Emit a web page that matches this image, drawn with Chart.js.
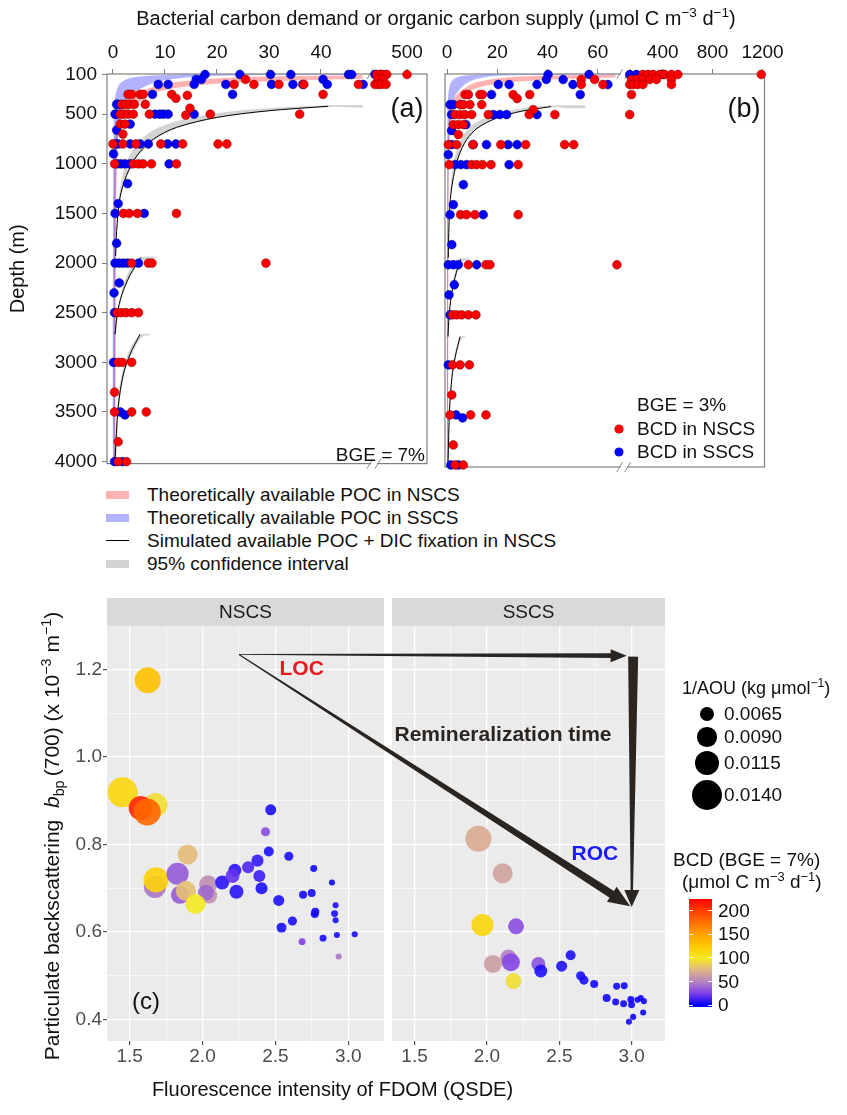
<!DOCTYPE html>
<html>
<head>
<meta charset="utf-8">
<title>BCD and organic carbon supply</title>
<script src="https://cdn.jsdelivr.net/npm/chart.js@4.4.1/dist/chart.umd.min.js"></script>
<style>
  body { margin: 0; background: #fff; }
  #page { position: relative; width: 847px; height: 1115px; overflow: hidden;
          font-family: "Liberation Sans", Arial, sans-serif; color: #111; }
  #page canvas { position: absolute; }
  .txt { position: absolute; white-space: nowrap; }
  sup, sub { font-size: 68%; line-height: 0; }
</style>
</head>
<body>
<div id="page">
  <canvas id="chartA" width="440" height="480" style="left:0;top:0"></canvas>
  <canvas id="chartB" width="358" height="480" style="left:432px;top:0"></canvas>
  <canvas id="chartC" width="847" height="530" style="left:0;top:585px"></canvas>
</div>
<script>
// ---------- panels (a) and (b): depth profiles ----------
const depthTicks = [100, 500, 1000, 1500, 2000, 2500, 3000, 3500, 4000];
const ticksA1 = [0, 10, 20, 30, 40];
const ticksA2 = [500];
const ticksB1 = [0, 20, 40, 60];
const ticksB2 = [400, 800, 1200];

// [BCD, depth], BGE = 7%
const nscsBcdA = [
  [99,100],[143,100],[186,100],[231,100],[500,100],
  [25.5,150],[116,150],[182,150],
  [23.3,200],[27.1,200],[31.9,200],[36.7,200],[47.2,200],[76,200],[120,200],[165,200],[222,200],
  [2.9,300],[3.6,300],[5.2,300],[5.8,300],[11.3,300],[14.3,310],[40.4,300],[12.1,340],
  [1.7,400],[2.4,400],[3.2,400],[4.1,400],[6.2,400],[14.8,440],
  [1.4,500],[2.0,500],[2.9,500],[3.9,500],[7.0,500],[14.0,510],[18.7,500],[35.9,500],
  [1.4,600],[2.3,600],[1.9,700],
  [0,800],[1.9,800],[4.4,800],[9.2,800],[13.4,800],[20.2,800],[21.9,800],
  [0.3,1000],[3.9,1000],[4.9,1000],[5.8,1000],[7.4,1000],[12.2,1000],
  [2.0,1500],[3.1,1500],[4.7,1500],[12.2,1500],
  [3.6,2000],[6.8,2000],[7.5,2000],[29.4,2000],
  [0.8,2500],[1.6,2500],[2.5,2500],[3.6,2500],[4.9,2500],
  [1.0,3000],[1.8,3000],[3.6,3000],[0.3,3300],
  [0.3,3500],[3.6,3500],[6.4,3500],[1.0,3800],[1.0,4000],[2.6,4000]
];
const sscsBcdA = [
  [17.7,100],[24.4,100],[30.3,100],[34.2,100],[45.3,100],[45.9,100],[76,100],
  [16.0,150],[17.0,150],[40.4,150],
  [8.7,200],[10.6,200],[15.6,200],[21.7,200],[30.5,200],[34.6,200],[36.5,200],[41.2,200],[48.1,200],
  [7.6,300],[23.0,300],
  [0.7,400],[1.0,400],
  [0.4,500],[0.6,500],[8.1,500],[9.0,500],[9.7,500],[10.6,500],[15.6,500],
  [3.3,600],[0.7,660],
  [0.5,800],[1.0,800],[3.3,800],[5.2,800],[6.8,800],[10.5,800],[12.1,800],
  [0.1,900],
  [0.8,1000],[1.5,1000],[2.3,1000],[3.3,1000],[10.8,1000],
  [2.8,1200],[1.0,1400],[0.4,1500],[6.0,1500],
  [0.7,1800],
  [0.4,2000],[1.2,2000],[2.0,2000],[2.8,2000],[4.9,2000],
  [1.2,2200],[0.2,2300],[0.3,2500],[0.1,3000],
  [1.4,3500],[2.3,3530],[0.3,4000],[1.8,4000]
];
// [BCD, depth], BGE = 3%
const nscsBcdB = [
  [242,100],[283,100],[323,100],[376,100],[416,100],[470,100],[522,100],[1190,100],
  [53.4,150],[58.7,150],[150,150],[190,150],[242,150],[296,150],[350,150],[470,150],
  [53.4,200],[62.0,200],[136,200],[165,200],[200,200],[242,200],[470,200],
  [7.2,300],[8.5,300],[13.1,300],[14.1,300],[26.3,300],[32.9,300],[150,300],[27.9,340],
  [5.2,400],[6.5,400],[9.1,400],[13.8,400],[34.3,450],
  [3.2,500],[5.2,500],[7.1,500],[9.8,500],[16.4,500],[32.7,500],[42.9,500],[136,500],
  [2.5,600],[4.5,600],[6.5,600],[4.5,700],
  [0.5,800],[3.8,800],[10.3,800],[21.4,800],[31.3,800],[46.8,800],[50.4,800],
  [0.9,1000],[9.8,1000],[11.8,1000],[14.1,1000],[17.5,1000],[28.3,1000],
  [5.4,1500],[7.8,1500],[11.1,1500],[28.3,1500],
  [8.5,2000],[15.5,2000],[17.1,2000],[67.6,2000],
  [2.2,2500],[3.8,2500],[5.8,2500],[8.5,2500],[11.5,2500],
  [2.2,3000],[5.2,3000],[8.9,3000],[1.9,3300],
  [1.2,3500],[9.4,3500],[15.5,3500],[2.5,3800],
  [3.2,4000],[6.5,4000]
];
const sscsBcdB = [
  [40.2,100],[56.5,100],[136,100],[190,100],[403,100],
  [39.5,150],[46.2,150],
  [20.4,200],[24.7,200],[35.8,200],[50.1,200],[64.0,200],
  [17.7,300],[53.0,300],
  [1.2,400],[2.5,400],
  [1.8,500],[18.4,500],[21.0,500],[23.7,500],[35.8,500],
  [7.5,600],[1.8,660],
  [1.8,800],[10.4,800],[15.7,800],[24.3,800],[27.9,800],
  [0.5,900],
  [3.2,1000],[5.5,1000],[7.8,1000],[24.7,1000],
  [6.5,1200],[2.5,1400],
  [1.2,1500],[14.4,1500],
  [1.9,1800],
  [0.5,2000],[2.5,2000],[4.5,2000],[11.8,2000],
  [2.9,2200],[0.8,2300],[1.2,2500],[0.5,3000],
  [3.6,3500],[6.2,3530],
  [1.5,4000],[4.5,4000]
];

// theoretically available POC bands, [supply, depth]; right edge top->bottom, left edge bottom->top
const nscsPocRight = [[67,130],[48,143],[35,160],[23,183],[15,215],[10.3,250],[7,300],[5.2,370],[3,460],[1.4,580],[0.9,800],[0.6,1500],[0.45,4000]];
const nscsPocLeft = [[0.15,4000],[0.2,1500],[0.4,800],[0.9,500],[1.4,420],[3,330],[5.2,270],[10.3,190],[16,155],[23.1,130],[35,115],[48,108],[67,102]];
const sscsPocRight = [[67,103],[47,104],[30,106],[17,120],[11,150],[7,200],[3.5,300],[2,400],[1.4,500],[0.6,1000],[0.35,4000]];
const sscsPocLeft = [[0,4000],[0.05,1000],[0.2,500],[0.3,400],[0.5,300],[1.2,200],[2.5,150],[5,120],[10,105],[15,100],[47,100],[67,100]];

// simulated available POC + DIC fixation in NSCS (three pieces) and their 95% CI edges
const sim1 = [[41.4,420],[29.6,467],[19.9,533],[12.2,633],[7.8,750],[4.6,917],[2.6,1117],[1.3,1350],[0.7,1680],[0.5,1930]];
const ci1Upper = [[55,408],[48,408],[41.4,410],[29.6,440],[19.9,490],[12.2,570],[7.8,660],[4.6,800],[2.6,980],[1.5,1200],[0.9,1500],[0.5,1930]];
const ci1Lower = [[0.65,1930],[0.8,1680],[1.45,1350],[2.8,1117],[4.9,917],[8.2,750],[12.7,633],[20.5,533],[30.3,467],[42,428],[48,436],[55,436]];
const sim2 = [[5.4,1940],[3.3,2117],[1.7,2317],[0.8,2517],[0.4,2717]];
const ci2Upper = [[8.4,1935],[5.4,1945],[3.3,2060],[2.0,2220],[1.0,2450],[0.3,2717]];
const ci2Lower = [[0.55,2717],[1.0,2517],[1.9,2317],[3.6,2117],[5.8,1975],[8.4,1945]];
const sim3 = [[5.2,2717],[3.3,2917],[2.0,3117],[1.0,3450],[0.4,3980]];
const ci3Upper = [[7.2,2712],[5.2,2722],[3.3,2860],[2.0,3050],[1.0,3350],[0.3,3980]];
const ci3Lower = [[0.55,3980],[1.15,3450],[2.2,3117],[3.6,2917],[5.6,2745],[7.2,2722]];

// ---------- panel (c): bbp vs FDOM ----------
const fdomTicks = [1.5, 2.0, 2.5, 3.0];
const fdomMinor = [1.75, 2.25, 2.75];
const bbpTicks = [0.4, 0.6, 0.8, 1.0, 1.2];
const bbpMinor = [0.5, 0.7, 0.9, 1.1];

const nscsFdom = [1.452,1.624,1.678,1.576,1.621,1.674,1.681,1.829,1.898,1.845,1.886,2.039,2.046,2.023,1.952,2.135,2.222,2.206,2.233,2.313,2.377,2.390,2.405,2.468,2.432,2.455,2.592,2.523,2.542,2.617,2.690,2.749,2.763,2.774,2.770,2.683,2.827,2.888,2.913,2.906,2.913,2.922,2.934,3.044];
const nscsBbp = [0.919,1.175,0.890,0.883,0.874,0.703,0.719,0.733,0.777,0.685,0.694,0.709,0.683,0.690,0.664,0.713,0.741,0.728,0.692,0.748,0.763,0.728,0.700,0.879,0.829,0.784,0.773,0.672,0.610,0.625,0.685,0.689,0.745,0.646,0.641,0.578,0.586,0.713,0.661,0.642,0.627,0.593,0.544,0.595];
const nscsAou = [0.0140,0.0121,0.0112,0.0112,0.0126,0.0103,0.0117,0.0103,0.0093,0.0084,0.0093,0.0084,0.0074,0.0074,0.0093,0.0065,0.0060,0.0065,0.0065,0.0056,0.0056,0.0056,0.0056,0.0051,0.0042,0.0046,0.0042,0.0051,0.0046,0.0042,0.0037,0.0037,0.0032,0.0037,0.0037,0.0032,0.0032,0.0028,0.0028,0.0032,0.0028,0.0028,0.0028,0.0028];
const nscsBcd = [115,130,95,210,180,45,118,35,78,35,80,55,58,40,100,8,8,20,8,15,10,12,6,5,30,5,5,6,5,5,4,4,3,4,4,25,5,3,5,5,5,5,45,5];

const sscsFdom = [1.941,2.109,1.969,2.201,2.041,2.148,2.165,2.183,2.355,2.372,2.516,2.578,2.647,2.670,2.741,2.827,2.896,2.948,2.889,2.944,2.994,2.999,3.040,3.063,3.084,3.079,3.010,2.981];
const sscsBbp = [0.813,0.734,0.616,0.613,0.527,0.542,0.531,0.488,0.527,0.511,0.522,0.547,0.500,0.490,0.481,0.449,0.476,0.477,0.440,0.436,0.446,0.434,0.445,0.449,0.442,0.416,0.406,0.395];
const sscsAou = [0.0121,0.0093,0.0103,0.0074,0.0084,0.0074,0.0084,0.0074,0.0065,0.0060,0.0051,0.0046,0.0042,0.0042,0.0037,0.0037,0.0032,0.0032,0.0032,0.0032,0.0032,0.0032,0.0028,0.0028,0.0028,0.0028,0.0028,0.0028];
const sscsBcd = [70,65,115,30,62,48,28,95,32,6,6,5,5,5,4,4,3,3,3,3,3,3,3,3,3,3,3,3];

const aouKeys = [0.0065, 0.0090, 0.0115, 0.0140];
const bcdKeys = [0, 50, 100, 150, 200];

// annotation anchors in data units: [FDOM, bbp]
const apex = [2.25, 1.234];        // NSCS facet
const locTip = [2.965, 1.231];     // SSCS facet
const rocTip = [2.99, 0.659];      // SSCS facet
const timeTop = [3.01, 1.229];     // SSCS facet
const timeTip = [3.0, 0.657];      // SSCS facet

// ---------- styles ----------
const RED = '#ff0000', RED_EDGE = 'rgba(110,0,0,0.8)';
const BLUE = '#0000ff', BLUE_EDGE = 'rgba(0,0,110,0.8)';
const NSCS_BAND = 'rgba(255,0,0,0.3)', SSCS_BAND = 'rgba(0,0,255,0.3)', CI_BAND = 'rgba(0,0,0,0.17)';
const FRAME = '#7f7f7f';
const ARROW = '#2b2522';
const FONT = '"Liberation Sans", Arial, sans-serif';
const bcdStops = [[0,'#0000ff'],[25,'#7f3fe8'],[50,'#b585c0'],[75,'#e2b585'],[100,'#f5ea20'],[125,'#ffc800'],[150,'#ffa500'],[175,'#ff7000'],[200,'#ff4000'],[225,'#ff0000']];

Chart.defaults.font.family = FONT;
Chart.defaults.color = '#111';
Chart.defaults.animation = false;
Chart.defaults.events = [];
Chart.defaults.plugins.legend.display = false;
Chart.defaults.plugins.tooltip.enabled = false;

const toXY = pts => pts.map(p => ({ x: p[0], y: p[1] }));
const sizeOf = v => 7 + (v - 0.0065) * 1067;

function hexRgb(h) {
  return [1, 3, 5].map(i => parseInt(h.slice(i, i + 2), 16));
}
function bcdColor(v, alpha) {
  let i = 0;
  while (i < bcdStops.length - 2 && v > bcdStops[i + 1][0]) i++;
  const [v0, c0] = bcdStops[i], [v1, c1] = bcdStops[i + 1];
  const t = Math.min(Math.max((v - v0) / (v1 - v0), 0), 1);
  const a = hexRgb(c0), b = hexRgb(c1);
  const c = a.map((x, k) => Math.round(x + (b[k] - x) * t));
  return `rgba(${c[0]},${c[1]},${c[2]},${alpha})`;
}

// box round the depth panels, opened where the x axis breaks
const panelFrame = {
  id: 'panelFrame',
  beforeDatasetsDraw(chart) {
    const { ctx, chartArea: a } = chart;
    const bx = chart.scales.x1.right;
    ctx.save();
    ctx.strokeStyle = FRAME;
    ctx.lineWidth = 1.2;
    ctx.strokeRect(a.left, a.top, a.right - a.left, a.bottom - a.top);
    ctx.fillStyle = '#fff';
    ctx.lineWidth = 0.9;
    [a.top, a.bottom].forEach(y => {
      ctx.fillRect(bx - 2, y - 2, 6, 4);
      ctx.beginPath();
      ctx.moveTo(bx - 6, y + 5); ctx.lineTo(bx, y - 5);
      ctx.moveTo(bx + 2, y + 5); ctx.lineTo(bx + 8, y - 5);
      ctx.stroke();
    });
    ctx.restore();
  }
};

const topAxis = (range, ticks, weight) => ({
  type: 'linear', position: 'top', stack: 'top', stackWeight: weight,
  min: range[0], max: range[1],
  afterBuildTicks: s => { s.ticks = ticks.map(v => ({ value: v })); },
  afterFit: s => { s.height = 74; },
  ticks: { font: { size: 19 }, color: '#111', padding: 5, autoSkip: false, maxRotation: 0, callback: v => String(v) },
  grid: { drawOnChartArea: false, tickLength: 5, color: FRAME },
  border: { display: false }
});

function depthChart(canvasId, cfg) {
  const inFirst = p => p[0] <= cfg.brk;
  const dots = (pts, axis, fill, edge, order) => ({
    type: 'scatter', xAxisID: axis, order, clip: false,
    data: toXY(pts.filter(p => (axis === 'x1') === inFirst(p))),
    backgroundColor: fill, borderColor: edge, borderWidth: 0.6, pointRadius: 4.4
  });
  const band = (edgeA, edgeB, fill, order) => ({
    type: 'line', xAxisID: 'x1', order, fill: 'shape', backgroundColor: fill,
    borderColor: 'rgba(0,0,0,0)', borderWidth: 0, pointRadius: 0, tension: 0.3,
    data: toXY(edgeA.concat(edgeB).filter(inFirst))
  });
  const curve = (pts, order) => ({
    type: 'line', xAxisID: 'x1', order, fill: false, borderColor: '#000',
    borderWidth: 1, pointRadius: 0, tension: 0.3, data: toXY(pts)
  });

  return new Chart(document.getElementById(canvasId), {
    type: 'scatter',
    data: {
      datasets: [
        band(nscsPocRight, nscsPocLeft, NSCS_BAND, 9),
        band(sscsPocRight, sscsPocLeft, SSCS_BAND, 8),
        band(ci1Upper, ci1Lower, CI_BAND, 7),
        band(ci2Upper, ci2Lower, CI_BAND, 7),
        band(ci3Upper, ci3Lower, CI_BAND, 7),
        curve(sim1, 6), curve(sim2, 6), curve(sim3, 6),
        dots(cfg.sscs, 'x1', BLUE, BLUE_EDGE, 2),
        dots(cfg.sscs, 'x2', BLUE, BLUE_EDGE, 2),
        dots(cfg.nscs, 'x1', RED, RED_EDGE, 1),
        dots(cfg.nscs, 'x2', RED, RED_EDGE, 1)
      ]
    },
    options: {
      responsive: false,
      layout: { padding: cfg.padding },
      scales: {
        // top stacks are laid out in reverse order, so the right-hand piece comes first
        x2: topAxis(cfg.range2, cfg.ticks2, cfg.w2),
        x1: topAxis(cfg.range1, cfg.ticks1, cfg.w1),
        y: {
          type: 'linear', reverse: true, min: 95, max: 4020, display: cfg.showY,
          afterBuildTicks: s => { s.ticks = depthTicks.map(v => ({ value: v })); },
          afterFit: s => { if (cfg.showY) s.width = 107; },
          ticks: { font: { size: 19 }, color: '#111', padding: 5, autoSkip: false, callback: v => String(v) },
          grid: { drawOnChartArea: false, tickLength: 5, color: FRAME },
          border: { display: false },
          title: { display: true, text: 'Depth (m)', font: { size: 20 }, color: '#111', padding: { top: 6 } }
        }
      }
    },
    plugins: [panelFrame]
  });
}

depthChart('chartA', {
  nscs: nscsBcdA, sscs: sscsBcdA, brk: 50,
  range1: [-1.15, 50], range2: [50, 764], w1: 266, w2: 54,
  ticks1: ticksA1, ticks2: ticksA2, showY: true,
  padding: { left: 0, top: 0, right: 13, bottom: 13 }
});
depthChart('chartB', {
  nscs: nscsBcdB, sscs: sscsBcdB, brk: 70,
  range1: [-0.8, 69.9], range2: [80, 1216], w1: 178, w2: 142,
  ticks1: ticksB1, ticks2: ticksB2, showY: false,
  padding: { left: 13, top: 0, right: 25, bottom: 13 }
});

// ---------- panel (c) ----------
function arrow(ctx, p, q, w0, w1, headLen, headHalf) {
  const dx = q.x - p.x, dy = q.y - p.y, len = Math.hypot(dx, dy);
  const ux = dx / len, uy = dy / len, nx = -uy, ny = ux;
  const bx = q.x - ux * headLen, by = q.y - uy * headLen;
  ctx.beginPath();
  ctx.moveTo(p.x + nx * w0, p.y + ny * w0);
  ctx.lineTo(bx + nx * w1, by + ny * w1);
  ctx.lineTo(bx + nx * headHalf, by + ny * headHalf);
  ctx.lineTo(q.x, q.y);
  ctx.lineTo(bx - nx * headHalf, by - ny * headHalf);
  ctx.lineTo(bx - nx * w1, by - ny * w1);
  ctx.lineTo(p.x - nx * w0, p.y - ny * w0);
  ctx.closePath();
  ctx.fill();
}

const facets = {
  id: 'facets',
  beforeDraw(chart) {
    const { ctx, chartArea: a, scales } = chart;
    ctx.save();
    ctx.fillStyle = '#ebebeb';
    ['x1', 'x2'].forEach(id => ctx.fillRect(scales[id].left, a.top, scales[id].width, a.bottom - a.top));
    ctx.restore();
  },
  beforeDatasetsDraw(chart) {
    // keep the horizontal grid lines out of the gap between the facets
    const { ctx, chartArea: a, scales } = chart;
    ctx.save();
    ctx.fillStyle = '#fff';
    ctx.fillRect(scales.x1.right, a.top, scales.x2.left - scales.x1.right, a.bottom - a.top);
    ctx.restore();
  },
  afterDatasetsDraw(chart) {
    const { ctx, scales: { x1, x2, y } } = chart;
    const at = (sx, p) => ({ x: sx.getPixelForValue(p[0]), y: y.getPixelForValue(p[1]) });
    ctx.save();
    ctx.fillStyle = ARROW;
    arrow(ctx, at(x1, apex), at(x2, locTip), 0.4, 2.4, 16, 6.5);
    arrow(ctx, at(x2, timeTop), at(x2, timeTip), 5, 1.2, 17, 7.5);
    arrow(ctx, at(x1, apex), at(x2, rocTip), 0.5, 4, 22, 9);

    ctx.textAlign = 'center';
    ctx.textBaseline = 'middle';
    ctx.font = 'bold 21px ' + FONT;
    ctx.fillStyle = '#e41a1c';
    let p = at(x1, [2.68, 1.2]);
    ctx.fillText('LOC', p.x, p.y);
    ctx.fillStyle = ARROW;
    p = at(x2, [2.111, 1.049]);
    ctx.fillText('Remineralization time', p.x, p.y);
    ctx.fillStyle = '#1a1aff';
    p = at(x2, [2.746, 0.778]);
    ctx.fillText('ROC', p.x, p.y);
    ctx.font = '24px ' + FONT;
    ctx.fillStyle = '#111';
    p = at(x1, [1.612, 0.44]);
    ctx.fillText('(c)', p.x, p.y);
    ctx.restore();
  }
};

const isMajor = (list) => (c) => list.includes(c.tick.value);
const gridStyle = (majors) => ({
  color: '#fff', tickLength: 4, tickWidth: 1,
  lineWidth: c => isMajor(majors)(c) ? 1.3 : 0.6,
  tickColor: c => isMajor(majors)(c) ? '#333' : 'rgba(0,0,0,0)'
});
const fdomAxis = (weight, range) => ({
  type: 'linear', position: 'bottom', stack: 'fdom', stackWeight: weight,
  min: range[0], max: range[1],
  afterBuildTicks: s => { s.ticks = fdomTicks.concat(fdomMinor).sort((a, b) => a - b).map(v => ({ value: v })); },
  afterFit: s => { s.height = 35; },
  ticks: { callback: v => fdomTicks.includes(v) ? v.toFixed(1) : '', font: { size: 19 }, color: '#4d4d4d', padding: 0, autoSkip: false, maxRotation: 0 },
  grid: gridStyle(fdomTicks),
  border: { display: false }
});
const strip = (weight, label) => ({
  type: 'linear', axis: 'x', position: 'top', stack: 'strip', stackWeight: weight,
  min: 0, max: 1, display: label !== null, backgroundColor: '#d9d9d9',
  afterFit: s => { s.height = 28; },
  ticks: { display: false },
  grid: { display: false },
  border: { display: false },
  title: { display: true, text: label || '', font: { size: 19 }, color: '#1a1a1a', padding: { top: 3, bottom: 0 } }
});
const bubbles = (fdom, bbp, aou, bcd, axis) => ({
  type: 'bubble', xAxisID: axis, clip: false, borderWidth: 0,
  data: fdom.map((v, i) => ({ x: v, y: bbp[i], r: sizeOf(aou[i]) })),
  backgroundColor: bcd.map(v => bcdColor(v, 0.9))
});

new Chart(document.getElementById('chartC'), {
  type: 'bubble',
  data: {
    datasets: [
      bubbles(nscsFdom, nscsBbp, nscsAou, nscsBcd, 'x1'),
      bubbles(sscsFdom, sscsBbp, sscsAou, sscsBcd, 'x2')
    ]
  },
  options: {
    responsive: false,
    layout: { padding: { top: 13, left: 0, right: 182, bottom: 6 } },
    plugins: {
      title: { display: true, position: 'bottom', text: 'Fluorescence intensity of FDOM (QSDE)',
               font: { size: 20, weight: 'normal' }, color: '#111', padding: { top: 2, bottom: 7 } }
    },
    scales: {
      // strips sit on top, where stacks run in reverse order
      s2: strip(273, 'SSCS'),
      sgap: strip(8, null),
      s1: strip(277, 'NSCS'),
      x1: fdomAxis(277, [1.345, 3.245]),
      xgap: { type: 'linear', position: 'bottom', stack: 'fdom', stackWeight: 8, min: 0, max: 1, display: false },
      x2: fdomAxis(273, [1.344, 3.23]),
      y: {
        type: 'linear', min: 0.351, max: 1.299,
        afterBuildTicks: s => { s.ticks = bbpTicks.concat(bbpMinor).sort((a, b) => a - b).map(v => ({ value: v })); },
        afterFit: s => { s.width = 107; },
        ticks: { callback: v => bbpTicks.includes(v) ? v.toFixed(1) : '', font: { size: 19 }, color: '#4d4d4d', padding: 1, autoSkip: false },
        grid: gridStyle(bbpTicks),
        border: { display: false }
      }
    }
  },
  plugins: [facets]
});

// ---------- text and keys laid over the canvases ----------
const page = document.getElementById('page');
function put(html, css) {
  const d = document.createElement('div');
  d.className = 'txt';
  Object.assign(d.style, css);
  d.innerHTML = html;
  page.appendChild(d);
  return d;
}
const px = v => v + 'px';

put('Bacterial carbon demand or organic carbon supply (μmol C m<sup>−3</sup> d<sup>−1</sup>)',
  { left: '86px', top: '6px', width: '700px', textAlign: 'center', fontSize: '20px', lineHeight: '24px' });
put('(a)', { left: '380px', top: '92px', width: '54px', textAlign: 'center', fontSize: '27px', lineHeight: '32px' });
put('(b)', { left: '717px', top: '92px', width: '54px', textAlign: 'center', fontSize: '27px', lineHeight: '32px' });
put('BGE = 7%', { left: '300px', top: '444px', width: '125px', textAlign: 'right', fontSize: '19px', lineHeight: '22px' });

// key inside panel (b)
put('BGE = 3%', { left: '637px', top: '394px', fontSize: '19px', lineHeight: '22px' });
[['BCD in NSCS', RED, RED_EDGE, 429], ['BCD in SSCS', BLUE, BLUE_EDGE, 452]].forEach(([label, fill, edge, y]) => {
  put('', { left: px(619 - 4.4), top: px(y - 4.4), width: '8.8px', height: '8.8px', borderRadius: '50%',
            background: fill, boxShadow: '0 0 0 0.6px ' + edge });
  put(label, { left: '637px', top: px(y - 11), fontSize: '19px', lineHeight: '22px' });
});

// key below panels (a) and (b)
[
  ['box', NSCS_BAND, 'Theoretically available POC in NSCS'],
  ['box', SSCS_BAND, 'Theoretically available POC in SSCS'],
  ['line', '#000', 'Simulated available POC + DIC fixation in NSCS'],
  ['box', CI_BAND, '95% confidence interval']
].forEach(([kind, color, label], i) => {
  const y = 494.5 + i * 23;
  const h = kind === 'box' ? 8 : 1.2;
  put('', { left: '106px', top: px(y - h / 2), width: '23px', height: px(h), background: color });
  put(label, { left: '147px', top: px(y - 11), fontSize: '19px', lineHeight: '22px' });
});

// y title of panel (c)
put('Particulate backscattering&nbsp; <i>b</i><sub>bp</sub>&thinsp;(700) (x 10<sup>−3</sup> m<sup>−1</sup>)',
  { left: '-208px', top: '823px', width: '520px', height: '26px', lineHeight: '26px', textAlign: 'center',
    fontSize: '21px', transform: 'rotate(-90deg)' });

// size key
put('1/AOU (kg μmol<sup>−1</sup>)', { left: '682px', top: '677px', fontSize: '18px', lineHeight: '22px' });
[714, 737, 763, 795].forEach((y, i) => {
  const r = sizeOf(aouKeys[i]);
  put('', { left: px(707 - r), top: px(y - r), width: px(2 * r), height: px(2 * r), borderRadius: '50%', background: '#000' });
  put(aouKeys[i].toFixed(4), { left: '724px', top: px(y - 11), fontSize: '19px', lineHeight: '22px' });
});

// colour key
put('BCD (BGE = 7%)', { left: '673px', top: '849px', fontSize: '19px', lineHeight: '22px' });
put('(μmol C m<sup>−3</sup> d<sup>−1</sup>)', { left: '682px', top: '871px', fontSize: '19px', lineHeight: '22px' });
const barLo = -4, barHi = 225, barTop = 899, barH = 108;
const barY = v => barTop + barH * (barHi - v) / (barHi - barLo);
put('', {
  left: '689px', top: px(barTop), width: '23px', height: px(barH),
  background: 'linear-gradient(to top,' + bcdStops.map(([v, c]) => `${c} ${((v - barLo) / (barHi - barLo) * 100).toFixed(1)}%`).join(',') + ')'
});
bcdKeys.forEach(v => {
  const y = barY(v);
  put('', { left: '689px', top: px(y - 0.5), width: '4px', height: '1px', background: 'rgba(255,255,255,0.9)' });
  put('', { left: '708px', top: px(y - 0.5), width: '4px', height: '1px', background: 'rgba(255,255,255,0.9)' });
  put(String(v), { left: '718px', top: px(y - 11), fontSize: '19px', lineHeight: '22px' });
});
</script>
</body>
</html>
